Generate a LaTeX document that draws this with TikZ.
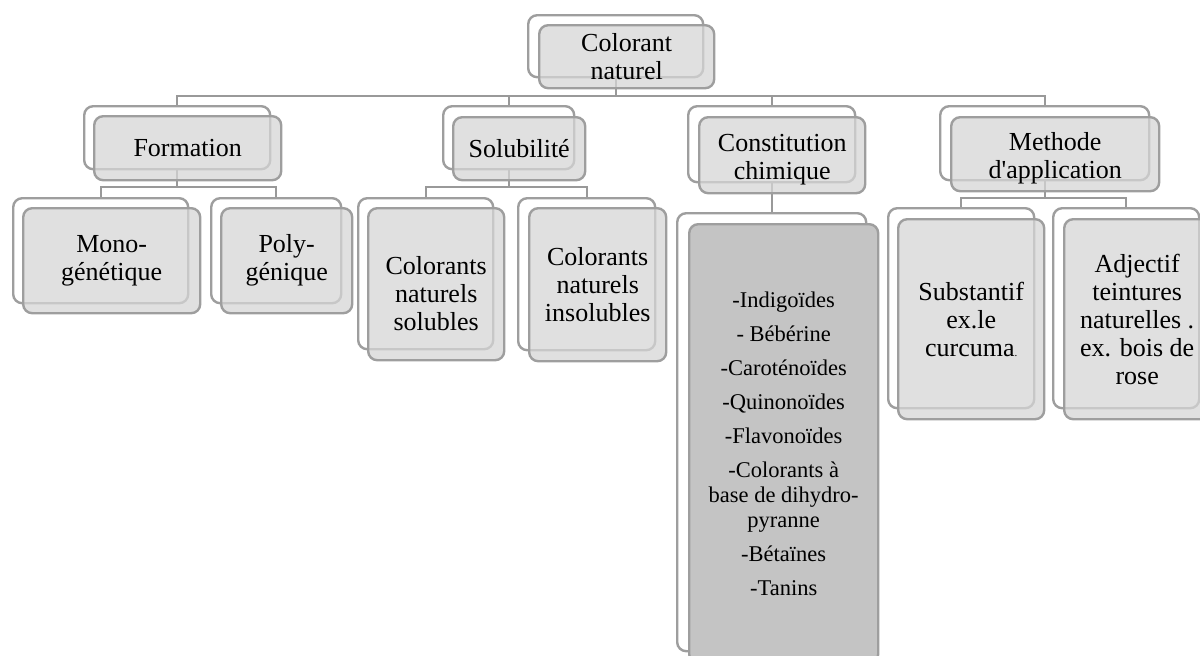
\documentclass[tikz,border=0pt]{standalone}
\usepackage{fontspec}
\setmainfont{Liberation Serif}
\definecolor{bordc}{HTML}{9E9E9E}
\definecolor{connc}{HTML}{999999}
\definecolor{frontc}{HTML}{D6D6D6}
\definecolor{tallc}{HTML}{C4C4C4}
\begin{document}
\begin{tikzpicture}[x=1pt,y=-1pt,
  back/.style={rectangle, draw=bordc, line width=2.4pt, fill=white, rounded corners=9pt, inner sep=0pt, anchor=north west},
  front/.style={rectangle, draw=bordc, line width=2.4pt, fill=frontc, fill opacity=0.75, draw opacity=1, rounded corners=9pt, inner sep=0pt, anchor=north west},
  tallfront/.style={front, fill=tallc, fill opacity=1},
  txt/.style={align=center, inner sep=0pt, font=\fontsize{26}{28}\selectfont},
  talltxt/.style={txt, font=\fontsize{22.5}{25}\selectfont},
  conn/.style={draw=connc, line width=2.4pt}]
\useasboundingbox (0,0) rectangle (1200,656);
\clip (0,0) rectangle (1200,656);
\coordinate (bus1) at (0,96);
\coordinate (bus2) at (0,187);
\coordinate (bus3) at (0,198);
% back boxes, level 0 and 1
\node[back, minimum width=175, minimum height=62] (rootB) at (527,14) {};
\node[back, minimum width=186, minimum height=63] (formB) at (83,105) {};
\node[back, minimum width=131, minimum height=63] (solB) at (442,105) {};
\node[back, minimum width=167, minimum height=76] (consB) at (687,105) {};
\node[back, minimum width=209, minimum height=74] (methB) at (939,105) {};
% connectors level 0 -> 1
\draw[conn] (rootB.south) -- (rootB.south |- bus1) -| (formB.north);
\draw[conn] (rootB.south |- bus1) -| (solB.north);
\draw[conn] (rootB.south |- bus1) -| (consB.north);
\draw[conn] (rootB.south |- bus1) -| (methB.north);
% root front
\node[front, minimum width=175, minimum height=63] (rootF) at (538,24) {};
\node[txt] (root) at (rootF.center) {Colorant\\naturel};
% level 2 back boxes
\node[back, minimum width=175, minimum height=105] (monoB) at (12,197) {};
\node[back, minimum width=130, minimum height=105] (polyB) at (210,197) {};
\node[back, minimum width=135, minimum height=151] (sol1B) at (357,197) {};
\node[back, minimum width=137, minimum height=152] (sol2B) at (517,197) {};
\node[back, minimum width=189, minimum height=438] (tallB) at (676,212) {};
\node[back, minimum width=146, minimum height=200] (subB) at (887,207) {};
\node[back, minimum width=146, minimum height=200] (adjB) at (1052,207) {};
% connectors level 1 -> 2
\draw[conn] (formB.south) -- (formB.south |- bus2) -| (monoB.north);
\draw[conn] (formB.south |- bus2) -| (polyB.north);
\draw[conn] (solB.south) -- (solB.south |- bus2) -| (sol1B.north);
\draw[conn] (solB.south |- bus2) -| (sol2B.north);
\draw[conn] (consB.south) -- (consB.south |- tallB.north);
\draw[conn] (methB.south) -- (methB.south |- bus3) -| (subB.north);
\draw[conn] (methB.south |- bus3) -| (adjB.north);
% level 1 fronts
\node[front, minimum width=187, minimum height=64] (formF) at (93,115) {};
\node[txt] (form) at (formF.center) {Formation};
\node[front, minimum width=132, minimum height=63] (solF) at (452,116) {};
\node[txt] (sol) at (solF.center) {Solubilité};
\node[front, minimum width=166, minimum height=76] (consF) at (698,116) {};
\node[txt] (cons) at ([yshift=-4pt]consF.center) {Constitution\\chimique};
\node[front, minimum width=208, minimum height=74] (methF) at (950,116) {};
\node[txt] (meth) at ([yshift=-4pt]methF.center) {Methode\\d\textquotesingle application};
% level 2 fronts
\node[front, minimum width=177, minimum height=105] (monoF) at (22,207) {};
\node[txt] (mono) at (monoF.center) {Mono-\\génétique};
\node[front, minimum width=131, minimum height=105] (polyF) at (220,207) {};
\node[txt] (poly) at (polyF.center) {Poly-\\génique};
\node[front, minimum width=136, minimum height=152] (sol1F) at (367,207) {};
\node[txt] (sol1) at ([yshift=-9pt]sol1F.center) {Colorants\\naturels\\solubles};
\node[front, minimum width=137, minimum height=153] (sol2F) at (528,207) {};
\node[txt] (sol2) at (sol2F.center) {Colorants\\naturels\\insolubles};
\node[tallfront, minimum width=189, minimum height=439] (tallF) at (688,223) {};
\node[talltxt] (tall) at (tallF.center) {-Indigoïdes\\[9pt]- Bébérine\\[9pt]-Caroténoïdes\\[9pt]-Quinonoïdes\\[9pt]-Flavonoïdes\\[9pt]-Colorants à\\base de dihydro-\\pyranne\\[9pt]-Bétaïnes\\[9pt]-Tanins};
\node[front, minimum width=146, minimum height=200] (subF) at (897,218) {};
\node[txt] (sub) at (subF.center) {Substantif\\ex.le\\curcuma{\fontsize{11}{11}\selectfont.}};
\node[front, minimum width=146, minimum height=200] (adjF) at (1063,218) {};
\node[txt] (adj) at (adjF.center) {Adjectif\\teintures\\naturelles .\\ex. bois de\\rose};
\end{tikzpicture}
\end{document}
